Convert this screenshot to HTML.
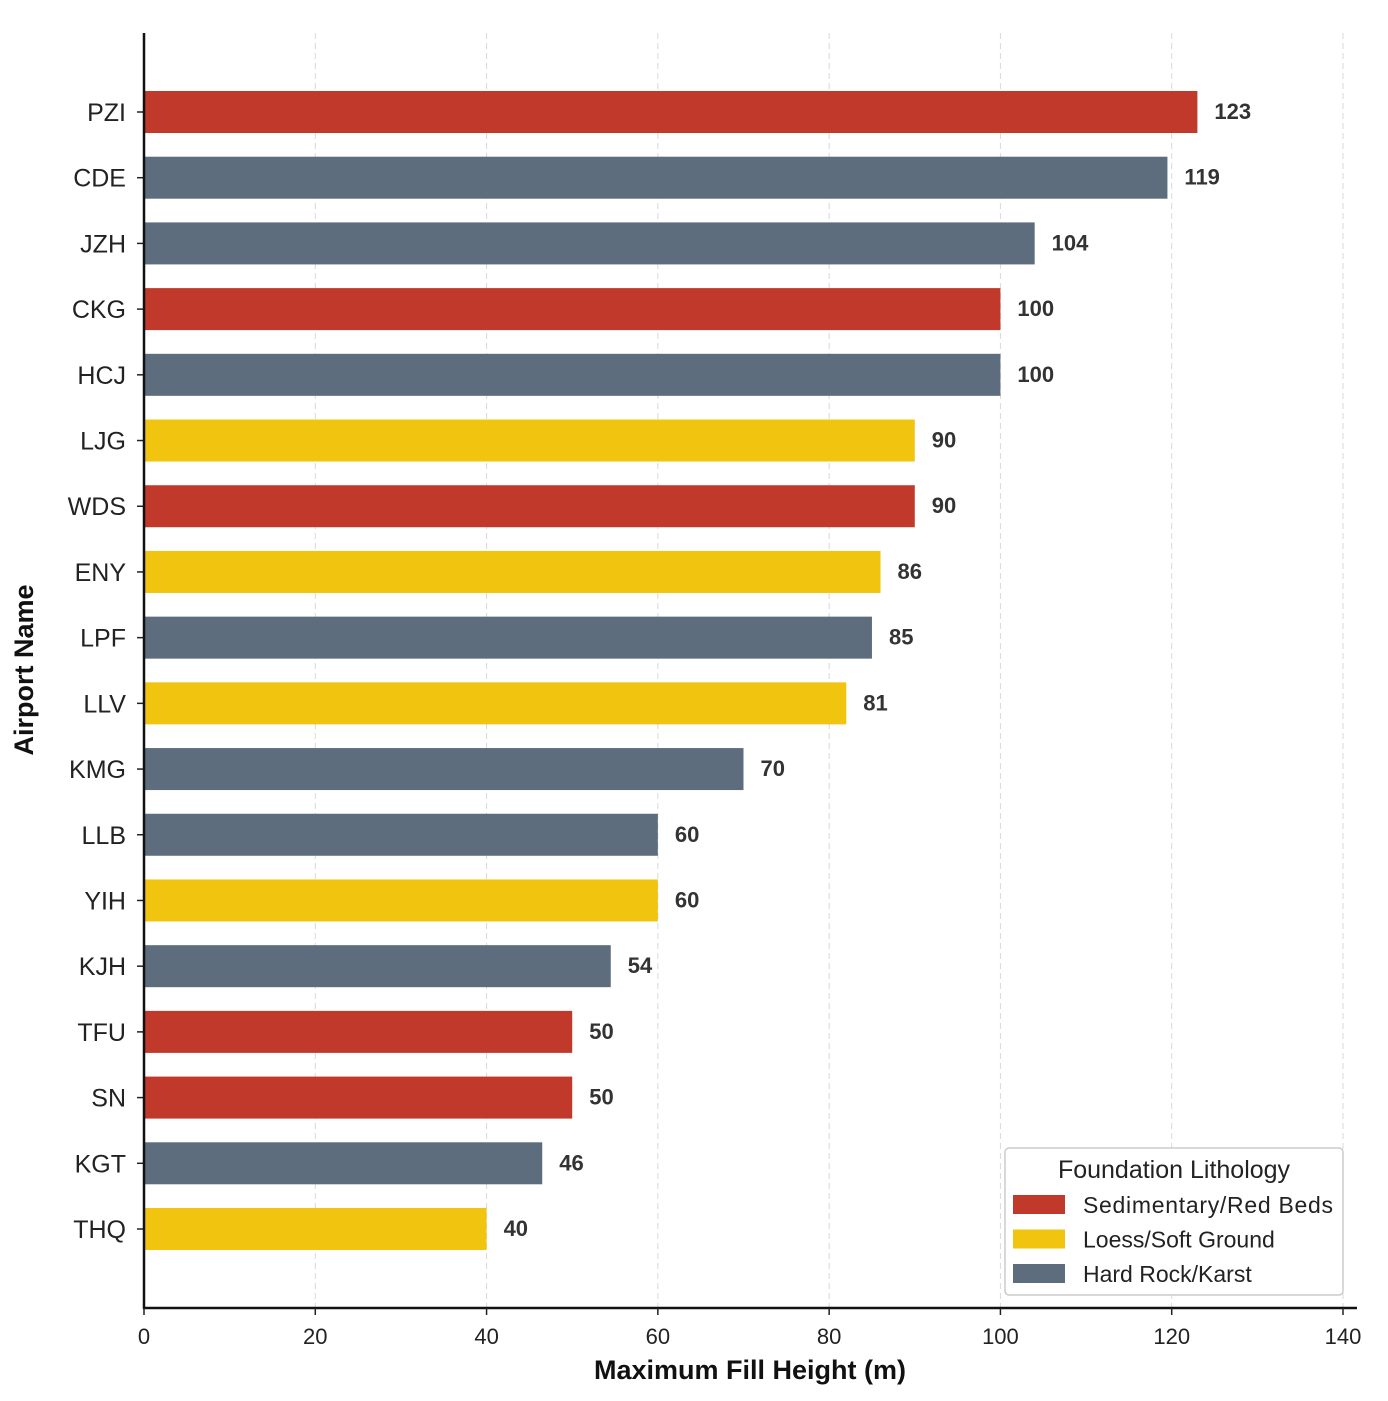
<!DOCTYPE html>
<html><head><meta charset="utf-8"><style>
html,body{margin:0;padding:0;background:#fff;}
svg{display:block;font-family:"Liberation Sans",Arial,sans-serif;}
</style></head><body>
<svg id="chart" width="1388" height="1401" viewBox="0 0 1388 1401"></svg>
<script>
const categories = ["PZI","CDE","JZH","CKG","HCJ","LJG","WDS","ENY","LPF","LLV","KMG","LLB","YIH","KJH","TFU","SN","KGT","THQ"];
const fillHeights = [123,119.5,104,100,100,90,90,86,85,82,70,60,60,54.5,50,50,46.5,40];
const valueLabels = ["123","119","104","100","100","90","90","86","85","81","70","60","60","54","50","50","46","40"];
const lithology = ["sed","hard","hard","sed","hard","loess","sed","loess","hard","loess","hard","hard","loess","hard","sed","sed","hard","loess"];
const xTicks = [0,20,40,60,80,100,120,140];
const legendKeys = ["sed","loess","hard"];
const legendLabels = ["Sedimentary/Red Beds","Loess/Soft Ground","Hard Rock/Karst"];
const colors = {sed:"#c0392b", loess:"#f1c40f", hard:"#5d6d7e"};

const NS="http://www.w3.org/2000/svg";
const svg=document.getElementById("chart");
const X0=144, X1=1343, XMAX=140;
const yFirst=112, yStep=(1229-112)/17, barH=42;
const xs=v=>X0+(v/XMAX)*(X1-X0);
const ys=i=>yFirst+i*yStep;
function mk(tag,attrs,parent){const e=document.createElementNS(NS,tag);for(const k in attrs)e.setAttribute(k,attrs[k]);(parent||svg).appendChild(e);return e;}

xTicks.forEach(t=>{
  const g=mk("line",{x1:xs(t),x2:xs(t),y1:33,y2:1308,stroke:"#d9d9d9","stroke-width":1,"stroke-dasharray":"6,4"});
  
  
});
categories.forEach((c,i)=>{
  const r=mk("rect",{x:X0,y:ys(i)-barH/2,width:xs(fillHeights[i])-X0,height:barH,fill:colors[lithology[i]]});
  
  
  const t=mk("text",{x:xs(fillHeights[i])+17,y:ys(i)+7,"font-size":22,"font-weight":"bold",fill:"#333"});
  t.textContent=valueLabels[i];
  
  
  const tk=mk("line",{x1:X0-7,x2:X0,y1:ys(i),y2:ys(i),stroke:"#222","stroke-width":1.5});
  
  
  const lb=mk("text",{x:X0-18,y:ys(i)+9,"font-size":25,"text-anchor":"end",fill:"#222"});
  lb.textContent=c;
  
  
});
const sl=mk("line",{x1:X0,x2:X0,y1:33,y2:1309,stroke:"#111","stroke-width":2.5});


const sb=mk("line",{x1:X0-1,x2:1357,y1:1308,y2:1308,stroke:"#111","stroke-width":2.5});


xTicks.forEach(t=>{
  const tk=mk("line",{x1:xs(t),x2:xs(t),y1:1308,y2:1315,stroke:"#222","stroke-width":1.5});
  
  
  const lb=mk("text",{x:xs(t),y:1344,"font-size":22,"text-anchor":"middle",fill:"#222"});
  lb.textContent=t;
  
  
});
const xt=mk("text",{x:750,y:1379,"font-size":27,"font-weight":"bold","text-anchor":"middle",fill:"#111"});
xt.textContent="Maximum Fill Height (m)";


const yt=mk("text",{x:33,y:670,"font-size":27,"font-weight":"bold","text-anchor":"middle",fill:"#111",transform:"rotate(-90 33 670)"});
yt.textContent="Airport Name";


const lg=mk("g",{});


mk("rect",{x:1005,y:1148,width:338,height:147,rx:4,fill:"#fff",stroke:"#ccc","stroke-width":1.5},lg);
const ltitle=mk("text",{x:1174,y:1178,"font-size":25,"text-anchor":"middle",fill:"#222"},lg);
ltitle.textContent="Foundation Lithology";


legendKeys.forEach((k,i)=>{
  const y=1205+i*34.5;
  const e=mk("g",{},lg);
  
  
  mk("rect",{x:1013,y:y-10,width:52,height:19,fill:colors[k]},e);
  const t=mk("text",{x:1083,y:y+8,"font-size":23,fill:"#222",textLength:k==="sed"?250:null},e);
  if(k!=="sed")t.removeAttribute("textLength");
  t.textContent=legendLabels[i];
});
</script>
</body></html>
